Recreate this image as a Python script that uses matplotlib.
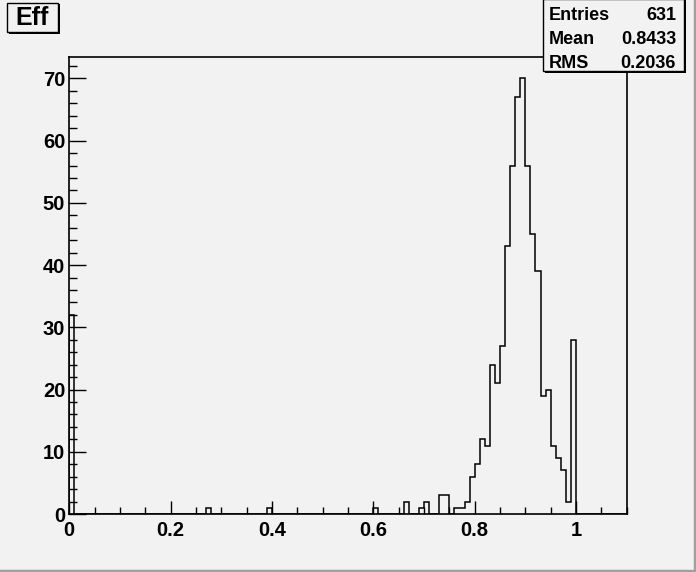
# ROOT-style efficiency histogram ("Eff") redrawn with matplotlib

import numpy as np
import matplotlib.pyplot as plt
from matplotlib.patches import Rectangle

title = 'Eff'
n_bins = 110
x_lo, x_hi = 0.0, 1.1

# non-empty bins: lower edge of bin -> entries
bin_lo = [0.00, 0.27, 0.39, 0.60, 0.66, 0.69, 0.70, 0.73, 0.74, 0.76, 0.77,
          0.78, 0.79, 0.80, 0.81, 0.82, 0.83, 0.84, 0.85, 0.86, 0.87, 0.88,
          0.89, 0.90, 0.91, 0.92, 0.93, 0.94, 0.95, 0.96, 0.97, 0.98, 0.99]
counts = [32, 1, 1, 1, 2, 1, 2, 3, 3, 1, 1,
          2, 6, 8, 12, 11, 24, 21, 27, 43, 56, 67,
          70, 56, 45, 39, 19, 20, 11, 9, 7, 2, 28]

stat_names = ['Entries', 'Mean', 'RMS']
stat_values = ['631', '0.8433', '0.2036']

edges = np.linspace(x_lo, x_hi, n_bins + 1)
h = np.zeros(n_bins)
for lo, c in zip(bin_lo, counts):
    h[int(round(lo / 0.01))] = c

bg = '#f2f2f2'
font = 'Liberation Sans'

fig = plt.figure(figsize=(6.96, 5.72), dpi=100, facecolor=bg)
ax = fig.add_axes([69.3/696, 1-514/572, (626.7-69.3)/696, (514-56.7)/572])
ax.set_facecolor(bg)

ax.stairs(h, edges, color='black', lw=1.1, baseline=0)

ax.set_xlim(x_lo, x_hi)
ax.set_ylim(0, max(counts) * 1.05)

ax.set_xticks([0, 0.2, 0.4, 0.6, 0.8, 1.0])
ax.set_xticklabels(['0', '0.2', '0.4', '0.6', '0.8', '1'])
ax.set_xticks(np.arange(0, 1.1001, 0.05), minor=True)
ax.set_yticks(np.arange(0, 71, 10))
ax.set_yticks(np.arange(0, 73, 2), minor=True)

ax.tick_params(axis='both', which='both', direction='in', width=1.0, color='black')
ax.tick_params(axis='x', which='major', length=9.5, pad=5)
ax.tick_params(axis='x', which='minor', length=5)
ax.tick_params(axis='y', which='major', length=12.5, pad=3)
ax.tick_params(axis='y', which='minor', length=6)
for lab in ax.get_xticklabels() + ax.get_yticklabels():
    lab.set_fontfamily(font)
    lab.set_fontweight('bold')
    lab.set_fontsize(14.5)
for s in ax.spines.values():
    s.set_linewidth(1.2)

# title box with shadow
fig.patches.append(Rectangle((9/696, 1-33.5/572), 51/696, 29/572, transform=fig.transFigure,
                             facecolor='black', edgecolor='none', zorder=5))
fig.patches.append(Rectangle((7/696, 1-31.7/572), 50.5/696, 29/572, transform=fig.transFigure,
                             facecolor=bg, edgecolor='black', lw=1.0, zorder=6))
fig.text(32.5/696, 1-18/572, title, fontsize=18, fontweight='bold', family=font,
         ha='center', va='center', zorder=7)

# stats box with shadow
fig.patches.append(Rectangle((545/696, 1-73/572), 141/696, 73/572, transform=fig.transFigure,
                             facecolor='black', edgecolor='none', zorder=5))
fig.patches.append(Rectangle((542.5/696, 1-71/572), 141/696, 72/572, transform=fig.transFigure,
                             facecolor=bg, edgecolor='black', lw=1.0, zorder=6))
for i, (n, v) in enumerate(zip(stat_names, stat_values)):
    y = 1 - (15 + i * 24) / 572
    fig.text(549/696, y, n, fontsize=13, fontweight='bold', family=font,
             ha='left', va='center', zorder=7)
    fig.text(676/696, y, v, fontsize=13, fontweight='bold', family=font,
             ha='right', va='center', zorder=7)

# canvas bevel
fig.add_artist(plt.Line2D([0, 1], [1.5/572, 1.5/572], transform=fig.transFigure,
                          color='#a0a0a0', lw=2.5))
fig.add_artist(plt.Line2D([1-1.5/696, 1-1.5/696], [0, 1], transform=fig.transFigure,
                          color='#a0a0a0', lw=2.5))

fig.savefig('out.png', dpi=100, facecolor=bg)
